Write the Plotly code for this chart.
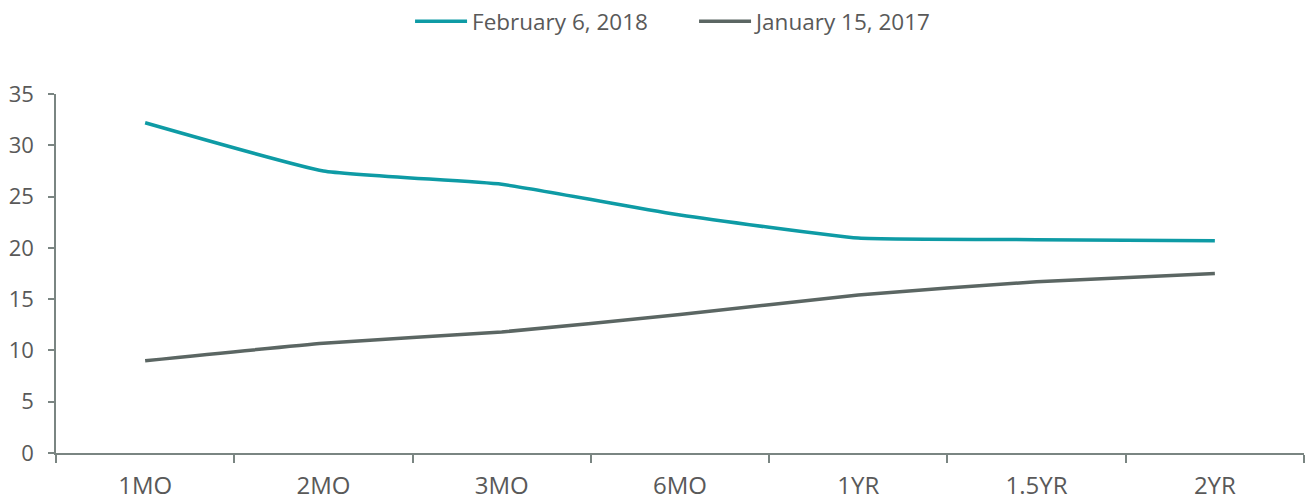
import plotly.graph_objects as go

categories = ["1MO", "2MO", "3MO", "6MO", "1YR", "1.5YR", "2YR"]
feb_2018 = [32.2, 27.5, 26.2, 23.2, 20.95, 20.8, 20.7]
jan_2017 = [9.0, 10.7, 11.8, 13.5, 15.4, 16.7, 17.5]
y_ticks = [0, 5, 10, 15, 20, 25, 30, 35]

TEAL = "#0E9BA5"
GRAY = "#5B6663"
TEXT = "#595959"
AXIS = "#7A8582"

fig = go.Figure()
fig.add_trace(go.Scatter(x=categories, y=feb_2018, name="February 6, 2018", mode="lines",
                         line=dict(color=TEAL, width=3.5, shape="spline", smoothing=0.4)))
fig.add_trace(go.Scatter(x=categories, y=jan_2017, name="January 15, 2017", mode="lines",
                         line=dict(color=GRAY, width=3.5, shape="spline", smoothing=0.4)))

fig.update_layout(
    width=1307, height=502,
    margin=dict(l=56, r=3, t=94, b=49),
    paper_bgcolor="white", plot_bgcolor="white",
    font=dict(family="Open Sans", size=22, color=TEXT),
    showlegend=True,
    legend=dict(orientation="h", x=0.2837, xanchor="left", y=1.0, yanchor="top",
                yref="container", font=dict(size=22.5, color=TEXT), itemwidth=52,
                entrywidth=217, tracegroupgap=0),
)
fig.update_xaxes(type="category", showgrid=False, showline=True, linecolor=AXIS, linewidth=1.5,
                 ticks="outside", ticklen=8, tickcolor=AXIS, tickwidth=1.5,
                 tickson="boundaries", range=[-0.5, 6.5], ticklabelstandoff=10,
                 automargin=False, tickfont=dict(size=24, color=TEXT))
fig.update_yaxes(range=[0, 35], tickvals=y_ticks, showgrid=False, showline=True, linecolor=AXIS,
                 linewidth=1.5, ticks="outside", ticklen=6, tickcolor=AXIS, tickwidth=1.5,
                 zeroline=False, ticklabelstandoff=10, automargin=False,
                 tickfont=dict(size=22, color=TEXT))

fig.write_html("out.html")
